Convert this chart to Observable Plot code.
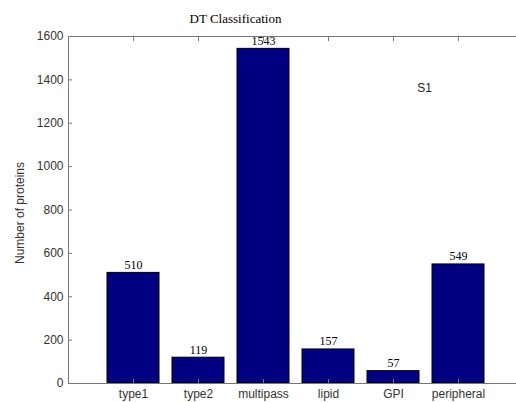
<!DOCTYPE html>
<html><head><meta charset="utf-8">
<script src="https://cdn.jsdelivr.net/npm/d3@7"></script>
<script src="https://cdn.jsdelivr.net/npm/@observablehq/plot@0.6"></script>
<style>body{margin:0;background:#fff} #c{width:516px;height:402px;overflow:hidden} #c svg{max-width:none !important}</style>
</head><body><div id="c"></div>
<script>
const categories = ["type1", "type2", "multipass", "lipid", "GPI", "peripheral"];
const counts = [510, 119, 1543, 157, 57, 549];
const yTicks = [0, 200, 400, 600, 800, 1000, 1200, 1400, 1600];
const title = "DT Classification";
const yLabel = "Number of proteins";
const note = "S1";

const data = categories.map((c, i) => ({category: c, count: counts[i]}));
const serif = "'Liberation Serif', 'Times New Roman', serif";
const sans = "'Liberation Sans', Arial, sans-serif";

const chart = Plot.plot({
  width: 523, height: 402,
  marginLeft: 68, marginRight: 0, marginTop: 36, marginBottom: 19,
  style: {fontFamily: sans, background: "#fff", color: "#333", maxWidth: "none"},
  x: {type: "band", domain: categories, paddingInner: 0.2, paddingOuter: 0.6, label: null},
  y: {domain: [0, 1600], label: null},
  marks: [
    Plot.barY(data, {x: "category", y: "count", fill: "#000080", stroke: "#000", strokeWidth: 1}),
    Plot.frame({stroke: "#777"}),
    Plot.axisY(yTicks, {tickSize: -4, tickPadding: 9, tickFormat: d3.format("d"), fontSize: 12, stroke: "#777", fill: "#333", label: null}),
    Plot.axisX({anchor: "bottom", tickSize: -4, tickPadding: 10, fontSize: 12, letterSpacing: 0.5, stroke: "#777", fill: "#333", label: null}),
    Plot.axisX({anchor: "top", tickSize: -4, tickFormat: () => "", stroke: "#777", label: null}),
    Plot.text(data, {x: "category", y: "count", text: d => String(d.count), lineAnchor: "bottom", dy: -4, fontFamily: serif, fontSize: 12, fill: "#000"}),
    Plot.text([title], {frameAnchor: "top-left", dx: 167, dy: -23, fontFamily: serif, fontSize: 13, fill: "#000", textAnchor: "middle"}),
    Plot.text([note], {frameAnchor: "top-left", dx: 356, dy: 47, fontFamily: sans, fontSize: 12, fill: "#222", textAnchor: "middle"}),
    Plot.text([yLabel], {frameAnchor: "left", dx: -48, dy: 3, rotate: -90, fontFamily: sans, fontSize: 12, letterSpacing: 0.6, fill: "#333", textAnchor: "middle"})
  ]
});
document.getElementById("c").appendChild(chart);
</script>
</body></html>
